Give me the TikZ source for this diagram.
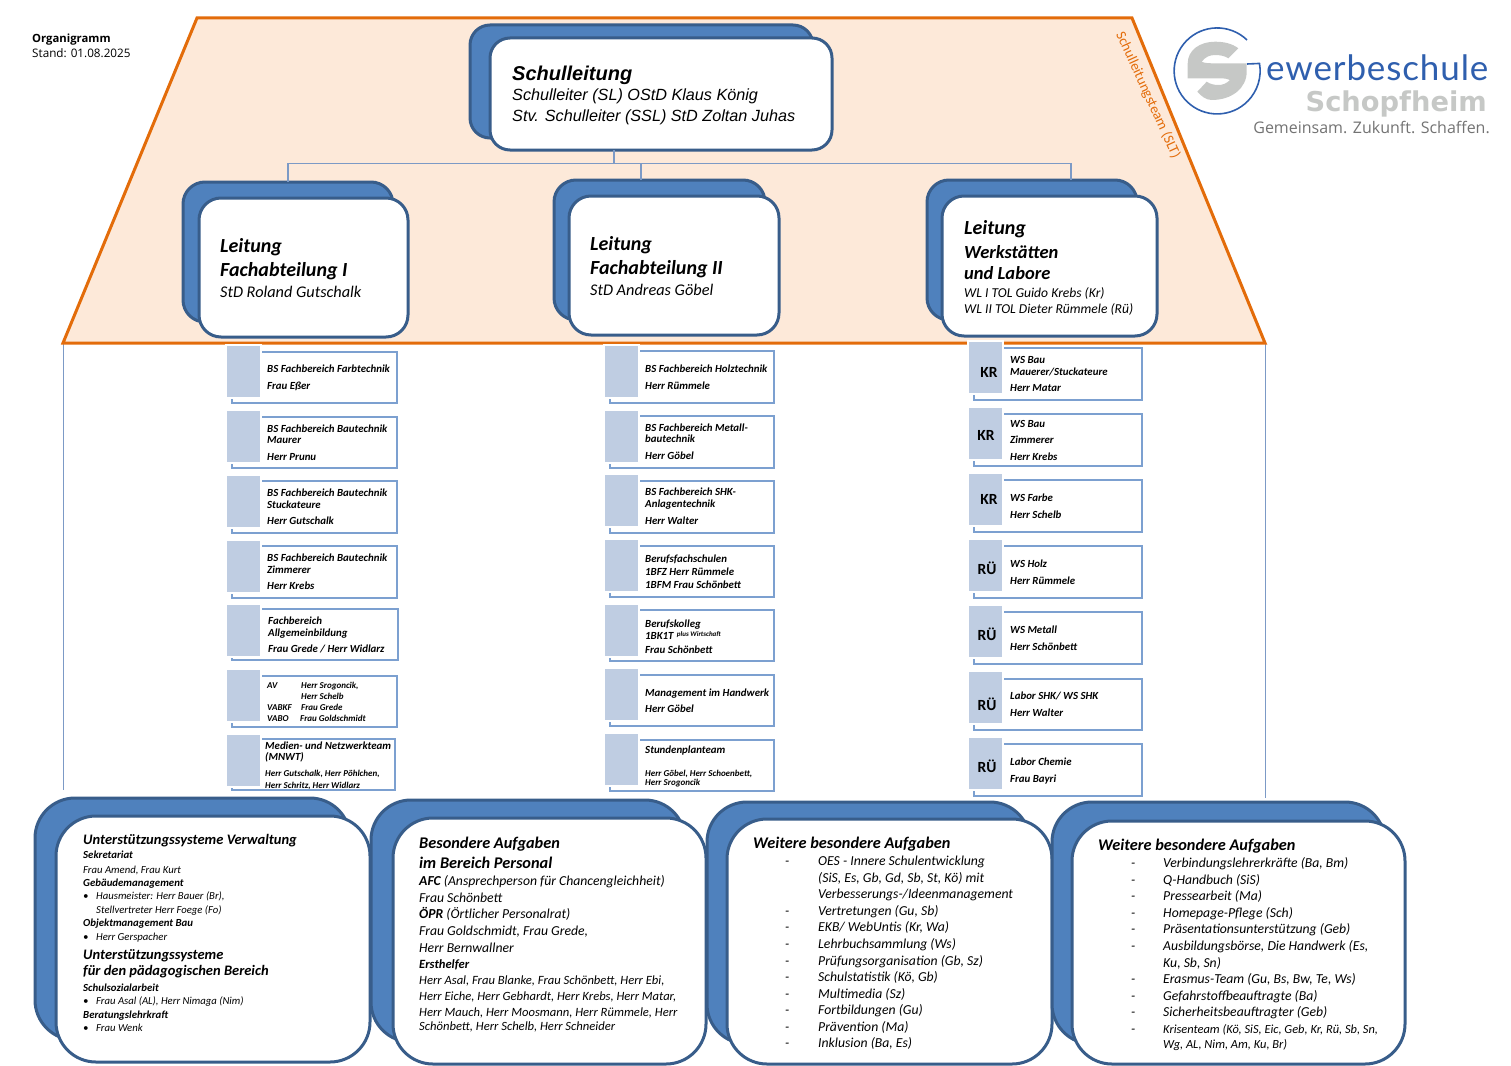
\documentclass[tikz,border=0pt]{standalone}
\usepackage{fontspec}
\setmainfont{Carlito}
\newfontfamily\arialfont{Liberation Sans}
\newfontfamily\notefont{Open Sans}
\newfontfamily\logofont[LetterSpace=2.5]{Lato}
\newfontfamily\schopffont{DejaVu Sans}
\newfontfamily\claimfont{Open Sans}
\definecolor{roofline}{HTML}{E36C0A}
\definecolor{rooffill}{HTML}{FDE9D9}
\definecolor{boxblue}{HTML}{4F81BD}
\definecolor{boxline}{HTML}{385D8A}
\definecolor{busblue}{HTML}{7C9AC6}
\definecolor{cardline}{HTML}{7CA0D0}
\definecolor{cardsq}{HTML}{BFCDE2}
\definecolor{logoblue}{HTML}{2F5FAE}
\definecolor{logogrey}{HTML}{C6C8C6}
\newcommand{\sizedfont}[1]{\fontsize{#1}{#1}\selectfont}
\tikzset{
	backbox/.style={draw=boxline, fill=boxblue, line width=3pt, inner sep=0pt, outer sep=0pt, anchor=north west},
	frontbox/.style={draw=boxline, fill=white, line width=3pt, inner sep=0pt, outer sep=0pt, anchor=north west},
	busline/.style={draw=busblue, line width=1.3pt},
	cardframe/.style={draw=cardline, fill=white, line width=1.5pt, inner sep=0pt, outer sep=0pt, anchor=north west},
	cardsquare/.style={draw=white, fill=cardsq, line width=2pt, inner sep=0pt, outer sep=0pt, anchor=north west, minimum width=35pt, minimum height=53pt},
	line/.style={anchor=base west, inner sep=0pt, text=black},
	cardtag/.style={inner sep=0pt, text=black, font=\sizedfont{15.5}\bfseries},
	cardtext/.style={line, font=\sizedfont{10.85}\bfseries\itshape},
	cardtiny/.style={line, font=\sizedfont{9}\bfseries\itshape},
	leadtitle/.style={line, font=\sizedfont{20}\bfseries\itshape},
	leadname/.style={line, font=\sizedfont{16.3}\itshape},
	infohead/.style={line, font=\sizedfont{16.3}\bfseries\itshape},
	infoheadb/.style={line, font=\sizedfont{14.5}\bfseries\itshape},
	infosub/.style={line, font=\sizedfont{10.8}\bfseries\itshape},
	infosmall/.style={line, font=\sizedfont{10.7}\itshape},
	infotext/.style={line, font=\sizedfont{13.7}\itshape},
	infotextb/.style={line, font=\sizedfont{12.6}\itshape}
}
% box: name, x1, y1, x2, y2, radius, style
\newcommand{\orgbox}[7]{
	\node (#1) [#7, rounded corners=#6pt, minimum width={(#4-(#2))*1pt}, minimum height={(#5-(#3))*1pt}] at (#2,#3) {};
}
% card: name, square x, square y, frame top, frame right, frame bottom
\newcommand{\infocard}[6]{
	\node (#1frame) [cardframe, minimum width={(#5-(#2)-5)*1pt}, minimum height={(#6-(#4))*1pt}] at (#2+5,#4) {};
	\node (#1sq) [cardsquare] at (#2-1,#3-1) {};
}
\begin{document}
\begin{tikzpicture}[x=1pt, y=-1pt]
	\useasboundingbox (0,0) rectangle (1511,1065);

	% roof
	\coordinate (roofA) at (197,18);
	\coordinate (roofB) at (1132,18);
	\coordinate (roofC) at (1265,343);
	\coordinate (roofD) at (63,343);
	\coordinate (sideC) at (1265,798);
	\coordinate (sideD) at (63,790);
	\draw [busline, line width=1pt] (roofD) -- (sideD);
	\draw [busline, line width=1pt] (roofC) -- (sideC);
	\draw [draw=roofline, fill=rooffill, line width=3pt] (roofA) -- (roofB) -- (roofC) -- (roofD) -- cycle;
	\node (slt) [inner sep=0pt, rotate=-65.5, text=roofline, font=\sizedfont{14.3}] at (1148,95) {Schulleitungsteam (SLT)};

	% note and logo
	\node (orga) [line, font=\notefont\sizedfont{11.3}\bfseries] at (32,42) {Organigramm};
	\node (stand) [line, font=\notefont\sizedfont{11.7}] at (32,58) {Stand: 01.08.2025};
	\draw [logoblue, line width=1.6pt] (1247,40) arc (-46:-370:43) -- (1247,64);
	\fill [logogrey] (1238.3,48.3) .. controls (1232,43.5) and (1224,41.7) .. (1215,41.7)
		.. controls (1200,41.7) and (1187.7,50) .. (1187.7,63.3) -- (1187.7,78.3) -- (1220,78.3)
		.. controls (1225,78.3) and (1228,79) .. (1230,80) .. controls (1226,84) and (1222,85) .. (1218.3,85)
		.. controls (1214,85) and (1210,84) .. (1206.7,81.7) -- (1197.3,91.7)
		.. controls (1201,96) and (1206,100) .. (1211.7,100)
		.. controls (1232,100) and (1246.7,88) .. (1246.7,71.7) -- (1246.7,63.3) -- (1213.3,63.3)
		.. controls (1208,63.3) and (1204,63) .. (1201.7,61.7) .. controls (1205,57) and (1210,55) .. (1215,55)
		.. controls (1220,55) and (1225,56) .. (1228.3,58.3) -- cycle;
	\node (logoa) [line, text=logoblue, font=\logofont\sizedfont{35}] at (1266,81) {ewerbeschule};
	\node (logob) [line, anchor=base east, text=logogrey, font=\schopffont\sizedfont{27.3}\bfseries] at (1487,111) {Schopfheim};
	\node (logoc) [line, anchor=base east, text=black!55, font=\claimfont\sizedfont{16}] at (1490,133) {Gemeinsam. Zukunft. Schaffen.};

	% leitung boxes
	\orgbox{topback}{470}{25}{813}{138}{20}{backbox}
	\orgbox{topfront}{490}{38}{832}{150}{20}{frontbox}
	\orgbox{leadaback}{183}{182}{393}{322}{22}{backbox}
	\orgbox{leadafront}{199}{198}{408}{337}{22}{frontbox}
	\orgbox{leadbback}{554}{180}{765}{320}{22}{backbox}
	\orgbox{leadbfront}{569}{196}{779}{335}{22}{frontbox}
	\orgbox{leadcback}{927}{180}{1137}{320}{22}{backbox}
	\orgbox{leadcfront}{942}{196}{1157}{336}{22}{frontbox}

	\coordinate (bus) at (614,163.5);
	\coordinate (busa) at (288,163.5);
	\coordinate (busb) at (641,163.5);
	\coordinate (busc) at (1071,163.5);
	\draw [busline] (bus |- topfront.south) -- (bus);
	\draw [busline] (busa |- leadaback.north) -- (busa) -- (busc) -- (busc |- leadcback.north);
	\draw [busline] (busb) -- (busb |- leadbback.north);

	\node (topa) [line, font=\arialfont\sizedfont{20}\bfseries\itshape] at (512,81) {Schulleitung};
	\node (topb) [line, font=\arialfont\sizedfont{16.2}\itshape] at (512,100) {Schulleiter (SL) OStD Klaus König};
	\node (topc) [line, font=\arialfont\sizedfont{16.2}\itshape] at (512,121) {Stv. Schulleiter (SSL) StD Zoltan Juhas};

	\node (leada1) [leadtitle] at (220,252) {Leitung};
	\node (leada2) [leadtitle] at (220,276) {Fachabteilung I};
	\node (leada3) [leadname] at (220,297) {StD Roland Gutschalk};
	\node (leadb1) [leadtitle] at (590,250) {Leitung};
	\node (leadb2) [leadtitle] at (590,274) {Fachabteilung II};
	\node (leadb3) [leadname] at (590,295) {StD Andreas Göbel};
	\node (leadc1) [leadtitle] at (964,234) {Leitung};
	\node (leadc2) [leadtitle, font=\sizedfont{18.5}\bfseries\itshape] at (964,258) {Werkstätten};
	\node (leadc3) [leadtitle, font=\sizedfont{18.5}\bfseries\itshape] at (964,279) {und Labore};
	\node (leadc4) [line, font=\sizedfont{13.6}\itshape] at (964,297) {WL I TOL Guido Krebs (Kr)};
	\node (leadc5) [line, font=\sizedfont{13.6}\itshape] at (964,313) {WL II TOL Dieter Rümmele (Rü)};

	% left column
	\foreach \n/\sy/\ft/\rr/\fb in {1/346/352/397/403, 2/411/417/397/468, 3/476/481/397/533, 4/541/546/397/598, 5/605/609/398/660, 6/670/676/397/727, 7/735/739/395/790}
		\infocard{cl\n}{227}{\sy}{\ft}{\rr}{\fb};
	\foreach \x/\y/\t in {267/369/{BS Fachbereich Farbtechnik}, 267/386/{Frau Eßer},
		267/429/{BS Fachbereich Bautechnik}, 267/440/{Maurer}, 267/457/{Herr Prunu},
		267/493/{BS Fachbereich Bautechnik}, 267/505/{Stuckateure}, 267/521/{Herr Gutschalk},
		267/558/{BS Fachbereich Bautechnik}, 267/570/{Zimmerer}, 267/586/{Herr Krebs},
		268/621/{Fachbereich}, 268/633/{Allgemeinbildung}, 268/649/{Frau Grede / Herr Widlarz},
		265/746/{Medien- und Netzwerkteam}, 265/757/{(MNWT)}}
		\node (tl-\y) [cardtext] at (\x,\y+3.5) {\t};
	\foreach \x/\y/\t in {267/685/{AV}, 301/685/{Herr Srogoncik,}, 301/696/{Herr Schelb}, 267/707/{VABKF}, 301/707/{Frau Grede},
		267/718/{VABO}, 300/718/{Frau Goldschmidt}, 265/773/{Herr Gutschalk, Herr Pöhlchen,}, 265/785/{Herr Schritz, Herr Widlarz}}
		\node (tl-\x-\y) [cardtiny] at (\x,\y+3) {\t};

	% middle column
	\foreach \n/\sy/\ft/\rr/\fb in {1/346/351/774/403, 2/411/416/774/468, 3/475/481/774/533, 4/540/546/774/597, 5/605/610/774/661, 6/669/675/774/726, 7/734/740/774/791}
		\infocard{cm\n}{605}{\sy}{\ft}{\rr}{\fb};
	\foreach \y/\t in {369/{BS Fachbereich Holztechnik}, 386/{Herr Rümmele},
		428/{BS Fachbereich Metall-}, 439/{bautechnik}, 456/{Herr Göbel},
		492/{BS Fachbereich SHK-}, 504/{Anlagentechnik}, 521/{Herr Walter},
		559/{Berufsfachschulen}, 572/{1BFZ Herr Rümmele}, 585/{1BFM Frau Schönbett},
		624/{Berufskolleg}, 636/{1BK1T\,\raisebox{3pt}{\sizedfont{7} plus Wirtschaft}}, 650/{Frau Schönbett},
		693/{Management im Handwerk}, 709/{Herr Göbel}, 750/{Stundenplanteam}}
		\node (tm-\y) [cardtext] at (645,\y+3.5) {\t};
	\foreach \y/\t in {773/{Herr Göbel, Herr Schoenbett,}, 782/{Herr Srogoncik}}
		\node (tm-\y) [cardtiny] at (645,\y+3) {\t};

	% right column
	\foreach \n/\sy/\ft/\fb in {1/342/348/400, 2/408/414/466, 3/474/480/532, 4/540/546/598, 5/606/612/664, 6/672/679/730, 7/738/744/796}
		\infocard{cr\n}{969}{\sy}{\ft}{1142}{\fb};
	\foreach \n/\tx/\ty/\tag in {1/989/372/KR, 2/986/435/KR, 3/989/499/KR, 4/987/568/RÜ, 5/987/634/RÜ, 6/987/704/RÜ, 7/987/766/RÜ}
		\node (cr\n tag) [cardtag] at (\tx,\ty) {\tag};
	\foreach \y/\t in {360/{WS Bau}, 372/{Mauerer/Stuckateure}, 388/{Herr Matar},
		424/{WS Bau}, 440/{Zimmerer}, 457/{Herr Krebs},
		498/{WS Farbe}, 515/{Herr Schelb}, 564/{WS Holz}, 581/{Herr Rümmele},
		630/{WS Metall}, 647/{Herr Schönbett}, 696/{Labor SHK/ WS SHK}, 713/{Herr Walter},
		762/{Labor Chemie}, 779/{Frau Bayri}}
		\node (tr-\y) [cardtext] at (1010,\y+3.5) {\t};

	% bottom boxes
	\orgbox{infoaback}{35}{798}{350}{1040}{40}{backbox}
	\orgbox{infoafront}{56}{816}{370}{1062}{40}{frontbox}
	\orgbox{infobback}{371}{800}{685}{1042}{40}{backbox}
	\orgbox{infobfront}{393}{818}{706}{1064}{40}{frontbox}
	\orgbox{infocback}{707}{802}{1030}{1044}{40}{backbox}
	\orgbox{infocfront}{727}{819}{1052}{1064}{40}{frontbox}
	\orgbox{infodback}{1052}{802}{1385}{1044}{40}{backbox}
	\orgbox{infodfront}{1072}{821}{1405}{1064}{40}{frontbox}

	\foreach \y/\t in {840/{Unterstützungssysteme Verwaltung}, 955/{Unterstützungssysteme}, 971/{für den pädagogischen Bereich}}
		\node (ta-\y) [infoheadb] at (83,\y+4) {\t};
	\foreach \y/\t in {855/{Sekretariat}, 883/{Gebäudemanagement}, 923/{Objektmanagement Bau}, 988/{Schulsozialarbeit}, 1015/{Beratungslehrkraft}}
		\node (ta-\y) [infosub] at (83,\y+3.5) {\t};
	\node (ta-870) [infosmall] at (83,873.5) {Frau Amend, Frau Kurt};
	\foreach \y/\t in {896/{Hausmeister: Herr Bauer (Br),}, 910/{Stellvertreter Herr Foege (Fo)}, 937/{Herr Gerspacher}, 1001/{Frau Asal (AL), Herr Nimaga (Nim)}, 1028/{Frau Wenk}}
		\node (ta-\y) [infosmall] at (96,\y+3.5) {\t};
	\foreach \y in {896,937,1001,1028}
		\node (tb-\y) [infosmall] at (83,\y+3.5) {•};

	\foreach \y/\t in {843/{Besondere Aufgaben}, 863/{im Bereich Personal}}
		\node (tc-\y) [infohead] at (419,\y+5) {\t};
	\foreach \y/\t in {881/{\textbf{AFC} (Ansprechperson für Chancengleichheit)}, 898/{Frau Schönbett}, 914/{\textbf{ÖPR} (Örtlicher Personalrat)},
		931/{Frau Goldschmidt, Frau Grede,}, 948/{Herr Bernwallner}}
		\node (tc-\y) [infotext] at (419,\y+4) {\t};
	\foreach \y/\t in {964/{\textbf{Ersthelfer}}, 980/{Herr Asal, Frau Blanke, Frau Schönbett, Herr Ebi,},
		996/{Herr Eiche, Herr Gebhardt, Herr Krebs, Herr Matar,}, 1012/{Herr Mauch, Herr Moosmann, Herr Rümmele, Herr}, 1026/{Schönbett, Herr Schelb, Herr Schneider}}
		\node (tc-\y) [infotextb] at (419,\y+4) {\t};

	\node (td-head) [infohead] at (753,848) {Weitere besondere Aufgaben};
	\foreach \y/\t in {861/{OES - Innere Schulentwicklung}, 878/{(SiS, Es, Gb, Gd, Sb, St, Kö) mit}, 894/{Verbesserungs-/Ideenmanagement},
		911/{Vertretungen (Gu, Sb)}, 927/{EKB/ WebUntis (Kr, Wa)}, 944/{Lehrbuchsammlung (Ws)}, 961/{Prüfungsorganisation (Gb, Sz)},
		977/{Schulstatistik (Kö, Gb)}, 994/{Multimedia (Sz)}, 1010/{Fortbildungen (Gu)}, 1027/{Prävention (Ma)}, 1043/{Inklusion (Ba, Es)}}
		\node (td-\y) [infotext] at (818,\y+4) {\t};
	\foreach \y in {861,911,927,944,961,977,994,1010,1027,1043}
		\node (tdd-\y) [infotext] at (785,\y+4) {-};

	\node (te-head) [infohead] at (1098,850) {Weitere besondere Aufgaben};
	\foreach \y/\t in {863/{Verbindungslehrerkräfte (Ba, Bm)}, 880/{Q-Handbuch (SiS)}, 896/{Pressearbeit (Ma)}, 913/{Homepage-Pflege (Sch)},
		929/{Präsentationsunterstützung (Geb)}, 946/{Ausbildungsbörse, Die Handwerk (Es,}, 963/{Ku, Sb, Sn)}, 979/{Erasmus-Team (Gu, Bs, Bw, Te, Ws)},
		996/{Gefahrstoffbeauftragte (Ba)}, 1012/{Sicherheitsbeauftragter (Geb)}}
		\node (te-\y) [infotext] at (1163,\y+4) {\t};
	\foreach \y/\t in {1029/{Krisenteam (Kö, SiS, Eic, Geb, Kr, Rü, Sb, Sn,}, 1044/{Wg, AL, Nim, Am, Ku, Br)}}
		\node (te-\y) [infotextb, font=\sizedfont{12.4}\itshape] at (1163,\y+4) {\t};
	\foreach \y in {863,880,896,913,929,946,979,996,1012,1029}
		\node (ted-\y) [infotext] at (1131,\y+4) {-};
\end{tikzpicture}
\end{document}
